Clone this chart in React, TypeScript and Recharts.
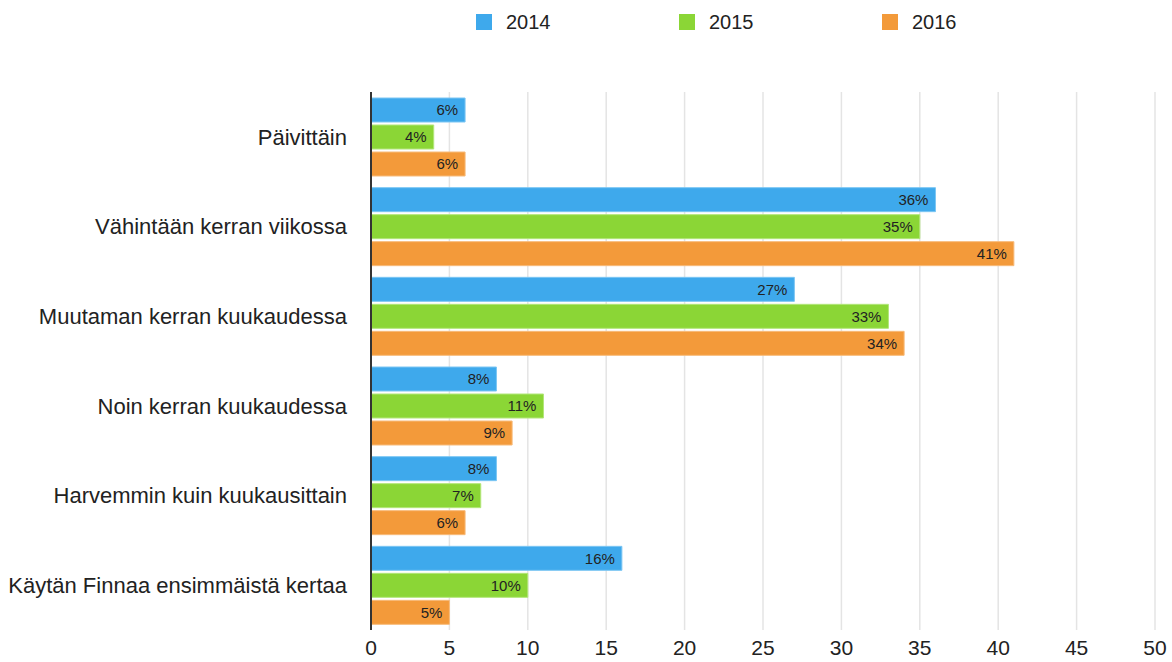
import React from 'react';
import { BarChart, Bar, XAxis, YAxis, CartesianGrid, LabelList } from 'recharts';

// Categories and series
const categories: string[] = [
  'Päivittäin',
  'Vähintään kerran viikossa',
  'Muutaman kerran kuukaudessa',
  'Noin kerran kuukaudessa',
  'Harvemmin kuin kuukausittain',
  'Käytän Finnaa ensimmäistä kertaa',
];
const values2014: number[] = [6, 36, 27, 8, 8, 16];
const values2015: number[] = [4, 35, 33, 11, 7, 10];
const values2016: number[] = [6, 41, 34, 9, 6, 5];
const xTicks: number[] = [0, 5, 10, 15, 20, 25, 30, 35, 40, 45, 50];

const series = [
  { key: 'y2014', name: '2014', fill: '#3ea9ec', stroke: '#7cc6f3' },
  { key: 'y2015', name: '2015', fill: '#8bd636', stroke: '#b2e67a' },
  { key: 'y2016', name: '2016', fill: '#f39a3a', stroke: '#f7bb7a' },
];

const data = categories.map((name, i) => ({
  name,
  y2014: values2014[i],
  y2015: values2015[i],
  y2016: values2016[i],
}));

const FONT = '"Liberation Sans", Arial, Helvetica, sans-serif';

// legend drawn as plain html above the plot
const TopLegend = () => (
  <div style={{ position: 'absolute', top: 10, left: 476, display: 'flex', fontFamily: FONT }}>
    {series.map((s) => (
      <div key={s.key} style={{ width: 203, display: 'flex', alignItems: 'center' }}>
        <span style={{ width: 16, height: 16, background: s.fill, display: 'inline-block', marginRight: 14 }} />
        <span style={{ fontSize: 20, color: '#222', lineHeight: '24px' }}>{s.name}</span>
      </div>
    ))}
  </div>
);

export default function App() {
  // pinned to the page corner so the chart can use the whole 1172x662 window
  return (
    <div style={{ position: 'absolute', top: 0, left: 0, width: 1172, height: 662 }}>
      <TopLegend />
      <BarChart
        width={1172}
        height={662}
        data={data}
        layout="vertical"
        margin={{ top: 92, right: 17, bottom: 0, left: 0 }}
        barCategoryGap={6}
        barGap={3}
      >
        <CartesianGrid horizontal={false} stroke="#e4e4e4" strokeWidth={1.5} />
        <XAxis
          type="number"
          domain={[0, 50]}
          ticks={xTicks}
          axisLine={false}
          tickLine={false}
          tickSize={0}
          tickMargin={10}
          height={32}
          tick={{ fill: '#222', fontSize: 21, fontFamily: FONT }}
        />
        <YAxis
          type="category"
          dataKey="name"
          width={371}
          axisLine={{ stroke: '#333', strokeWidth: 2 }}
          tickLine={false}
          tickSize={0}
          tickMargin={24}
          tick={{ fill: '#222', fontSize: 22, fontFamily: FONT }}
        />
        {series.map((s) => (
          <Bar
            key={s.key}
            dataKey={s.key}
            name={s.name}
            fill={s.fill}
            stroke={s.stroke}
            strokeWidth={1}
            isAnimationActive={false}
          >
            <LabelList
              dataKey={s.key}
              position="insideRight"
              offset={7}
              formatter={(v: number) => `${v}%`}
              style={{ fill: '#222', fontSize: 15, fontFamily: FONT }}
            />
          </Bar>
        ))}
      </BarChart>
    </div>
  );
}
